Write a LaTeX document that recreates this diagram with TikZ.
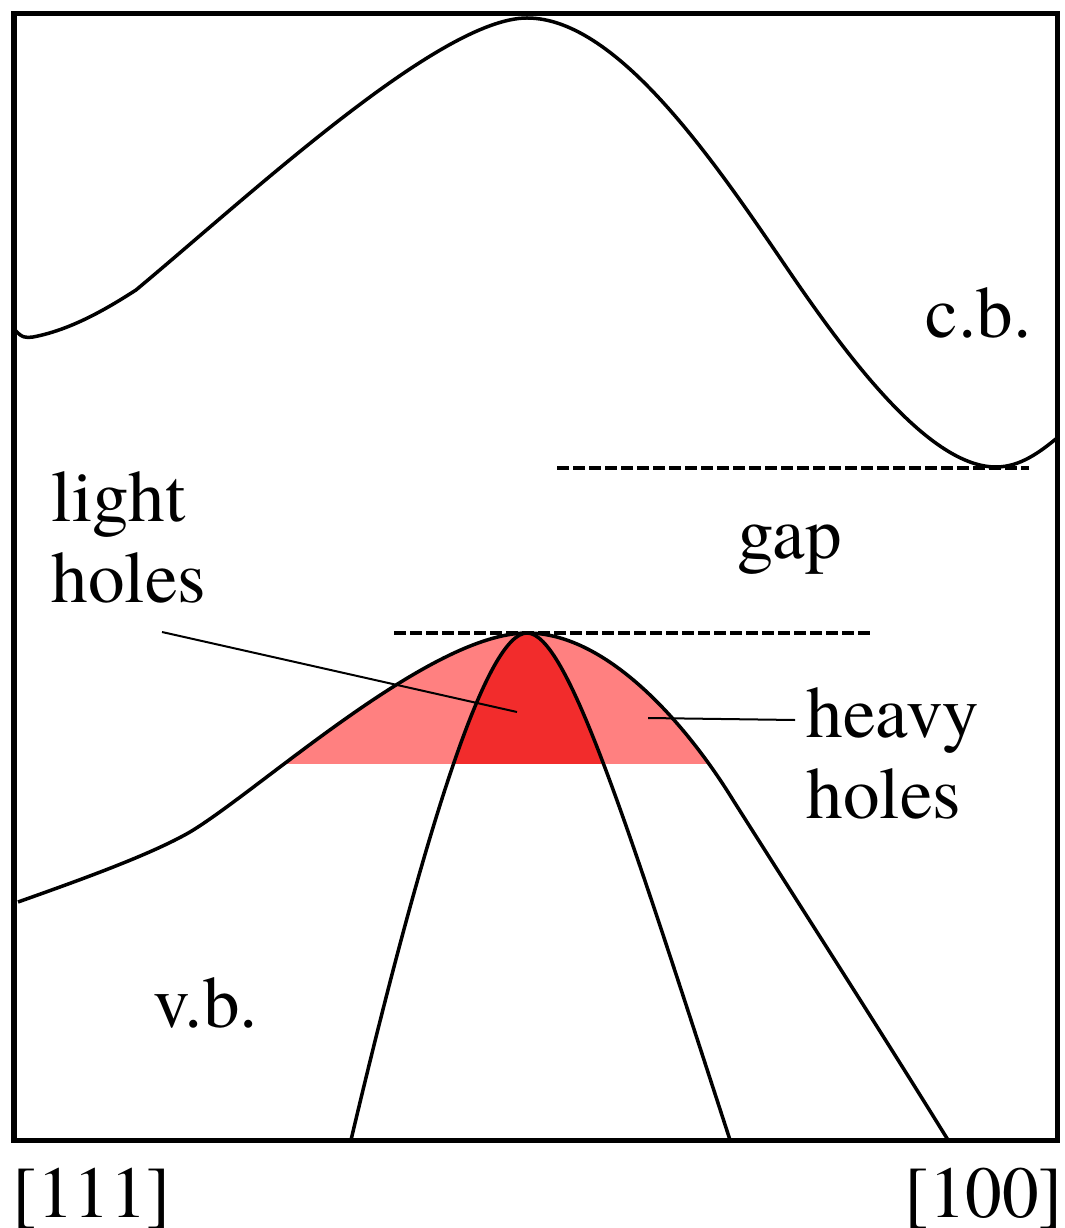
\documentclass[tikz,border=0pt]{standalone}
\usepackage{fontspec}
\setmainfont{TeX Gyre Termes}
\usetikzlibrary{positioning}
\definecolor{HeavyPink}{HTML}{FF8080}
\definecolor{LightRed}{HTML}{F22C2C}
\tikzset{
  band/.style={line width=0.035cm, line join=round},
  leader/.style={line width=0.02cm},
  level/.style={line width=0.035cm, dash pattern=on 0.115cm off 0.045cm},
  bandtext/.style={inner sep=0pt, align=left, font=\fontsize{20.8}{22.8}\selectfont},
}

\begin{document}
\begin{tikzpicture}[x=0.01cm, y=-0.01cm]
  \useasboundingbox (0,0) rectangle (1065,1228);

  % band curves
  \path[save path=\cbpath] (15,330) .. controls (22,338) and (26,338) .. (33,337)
    .. controls (70,330) and (105,310) .. (136,290)
    .. controls (250,195) and (440,18) .. (527,18)
    .. controls (620,18) and (720,170) .. (793,277)
    .. controls (850,360) and (930,467) .. (996,467)
    .. controls (1020,467) and (1040,452) .. (1057,438);
  \path[save path=\hhpath] (18,902) .. controls (80,880) and (150,855) .. (190,832)
    .. controls (260,790) and (430,633) .. (527,633)
    .. controls (610,633) and (690,730) .. (733,800)
    .. controls (790,890) and (880,1030) .. (948,1140);
  \path[save path=\lhpath] (351,1140) .. controls (428,815) and (488,633) .. (527,633)
    .. controls (567,633) and (626,820) .. (730,1140);

  % filled hole pockets
  \begin{scope}
    \clip (0,0) rectangle (1065,763);
    \fill[HeavyPink, use path=\hhpath];
    \fill[LightRed, use path=\lhpath];
  \end{scope}

  \draw[band, use path=\cbpath];
  \draw[band, use path=\hhpath];
  \draw[band, use path=\lhpath];

  % levels
  \coordinate (cb min l) at (557,468);
  \coordinate (cb min r) at (1029,468);
  \coordinate (vb max l) at (394,633);
  \coordinate (vb max r) at (870,633);
  \draw[level] (cb min l) -- (cb min r);
  \draw[level] (vb max l) -- (vb max r);

  % frame
  \draw[line width=0.05cm] (14,14) rectangle (1057,1140);

  % labels
  \node[bandtext, anchor=base west] (cb) at (925,338) {c.b.};
  \node[bandtext, anchor=base west] (vb) at (153,1027) {v.b.};
  \node[bandtext, anchor=base west] (gap) at (737,558) {gap};
  \node[bandtext, anchor=base west] (lh) at (51,602) {light\\holes};
  \node[bandtext, anchor=base west] (hh) at (806,818) {heavy\\holes};
  \node[bandtext, anchor=base west] (k111) at (12,1217) {[111]};
  \node[bandtext, anchor=base east] (k100) at (1064,1217) {[100]};

  % leaders
  \coordinate (lh tail) at (162,632);
  \coordinate (lh tip) at (517,712);
  \coordinate (hh tail) at (795,720);
  \coordinate (hh tip) at (648,718);
  \draw[leader] (lh tail) -- (lh tip);
  \draw[leader] (hh tail) -- (hh tip);
\end{tikzpicture}
\end{document}
